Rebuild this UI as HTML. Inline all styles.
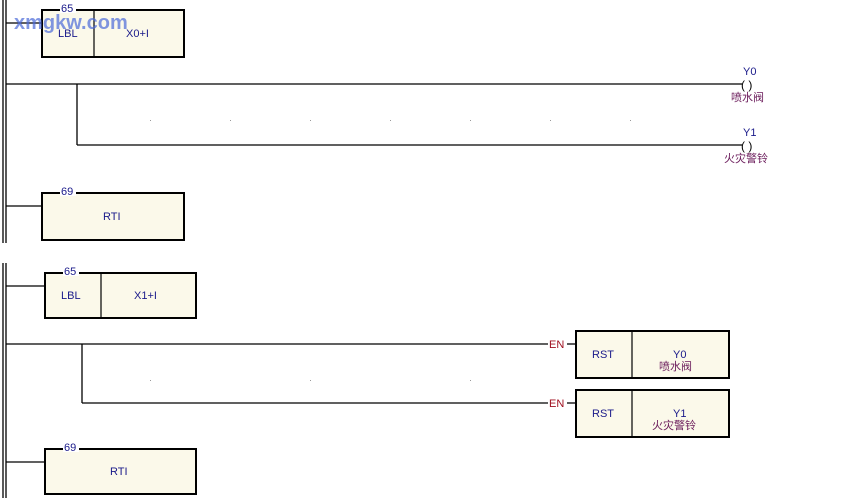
<!DOCTYPE html>
<html><head><meta charset="utf-8"><style>
html,body{margin:0;padding:0;background:#fff;width:841px;height:498px;overflow:hidden}
text{font-family:"Liberation Sans","Noto Sans CJK SC",sans-serif}
</style></head><body>
<svg width="841" height="498" xmlns="http://www.w3.org/2000/svg">
<g stroke="#000" stroke-width="1.3" fill="none">
<line x1="3" y1="0" x2="3" y2="243"/><line x1="6" y1="0" x2="6" y2="243"/>
<line x1="3" y1="263" x2="3" y2="498"/><line x1="6" y1="263" x2="6" y2="498"/>
<line x1="6" y1="23" x2="42" y2="23"/>
<line x1="6" y1="84" x2="742" y2="84"/>
<line x1="77" y1="84" x2="77" y2="145"/><line x1="77" y1="145" x2="742" y2="145"/>
<line x1="6" y1="206" x2="42" y2="206"/>
<line x1="6" y1="286" x2="45" y2="286"/>
<line x1="6" y1="344" x2="548" y2="344"/><line x1="567" y1="344" x2="576" y2="344"/>
<line x1="82" y1="344" x2="82" y2="403"/><line x1="82" y1="403" x2="548" y2="403"/><line x1="567" y1="403" x2="576" y2="403"/>
<line x1="6" y1="462" x2="45" y2="462"/>
</g>
<g stroke="#000" stroke-width="2" fill="#fbf9ea">
<rect x="42" y="10" width="142" height="47"/>
<rect x="42" y="193" width="142" height="47"/>
<rect x="45" y="273" width="151" height="45"/>
<rect x="45" y="449" width="151" height="45"/>
<rect x="576" y="331" width="153" height="47"/>
<rect x="576" y="390" width="153" height="47"/>
</g>
<g stroke="#000" stroke-width="1.2">
<line x1="94" y1="10" x2="94" y2="57"/><line x1="101" y1="273" x2="101" y2="318"/>
<line x1="632" y1="331" x2="632" y2="378"/><line x1="632" y1="390" x2="632" y2="437"/>
</g>
<g fill="#fff"><rect x="60" y="4" width="16" height="9"/><rect x="60" y="187" width="16" height="9"/><rect x="63" y="267" width="16" height="9"/><rect x="63" y="443" width="16" height="9"/></g>
<g fill="#1a1a8a" font-size="11">
<text x="61" y="12">65</text><text x="61" y="195">69</text><text x="64" y="275">65</text><text x="64" y="451">69</text>
<text x="58" y="37">LBL</text><text x="126" y="37">X0+I</text>
<text x="103" y="220">RTI</text>
<text x="61" y="299">LBL</text><text x="134" y="299">X1+I</text>
<text x="110" y="475">RTI</text>
<text x="592" y="358">RST</text><text x="673" y="358">Y0</text>
<text x="592" y="417">RST</text><text x="673" y="417">Y1</text>
<text x="743" y="75">Y0</text><text x="743" y="136">Y1</text>
</g>
<g fill="#000" font-size="12"><text x="741" y="89">( )</text><text x="741" y="150">( )</text></g>
<g fill="#6a1a5a" font-size="11">
<text x="731" y="101">喷水阀</text><text x="724" y="162">火灾警铃</text>
<text x="659" y="370">喷水阀</text><text x="652" y="429">火灾警铃</text>
</g>
<g fill="#a01020" font-size="11"><text x="549" y="348">EN</text><text x="549" y="407">EN</text></g>
<text x="14" y="29" font-size="20" font-weight="bold" fill="#4a6ad8" fill-opacity="0.7">xmgkw.com</text>
<g fill="#999">
<rect x="150" y="120" width="1" height="1"/><rect x="230" y="120" width="1" height="1"/><rect x="310" y="120" width="1" height="1"/>
<rect x="390" y="120" width="1" height="1"/><rect x="470" y="120" width="1" height="1"/><rect x="550" y="120" width="1" height="1"/>
<rect x="630" y="120" width="1" height="1"/><rect x="150" y="380" width="1" height="1"/><rect x="310" y="380" width="1" height="1"/>
<rect x="470" y="380" width="1" height="1"/>
</g>
</svg>
</body></html>
